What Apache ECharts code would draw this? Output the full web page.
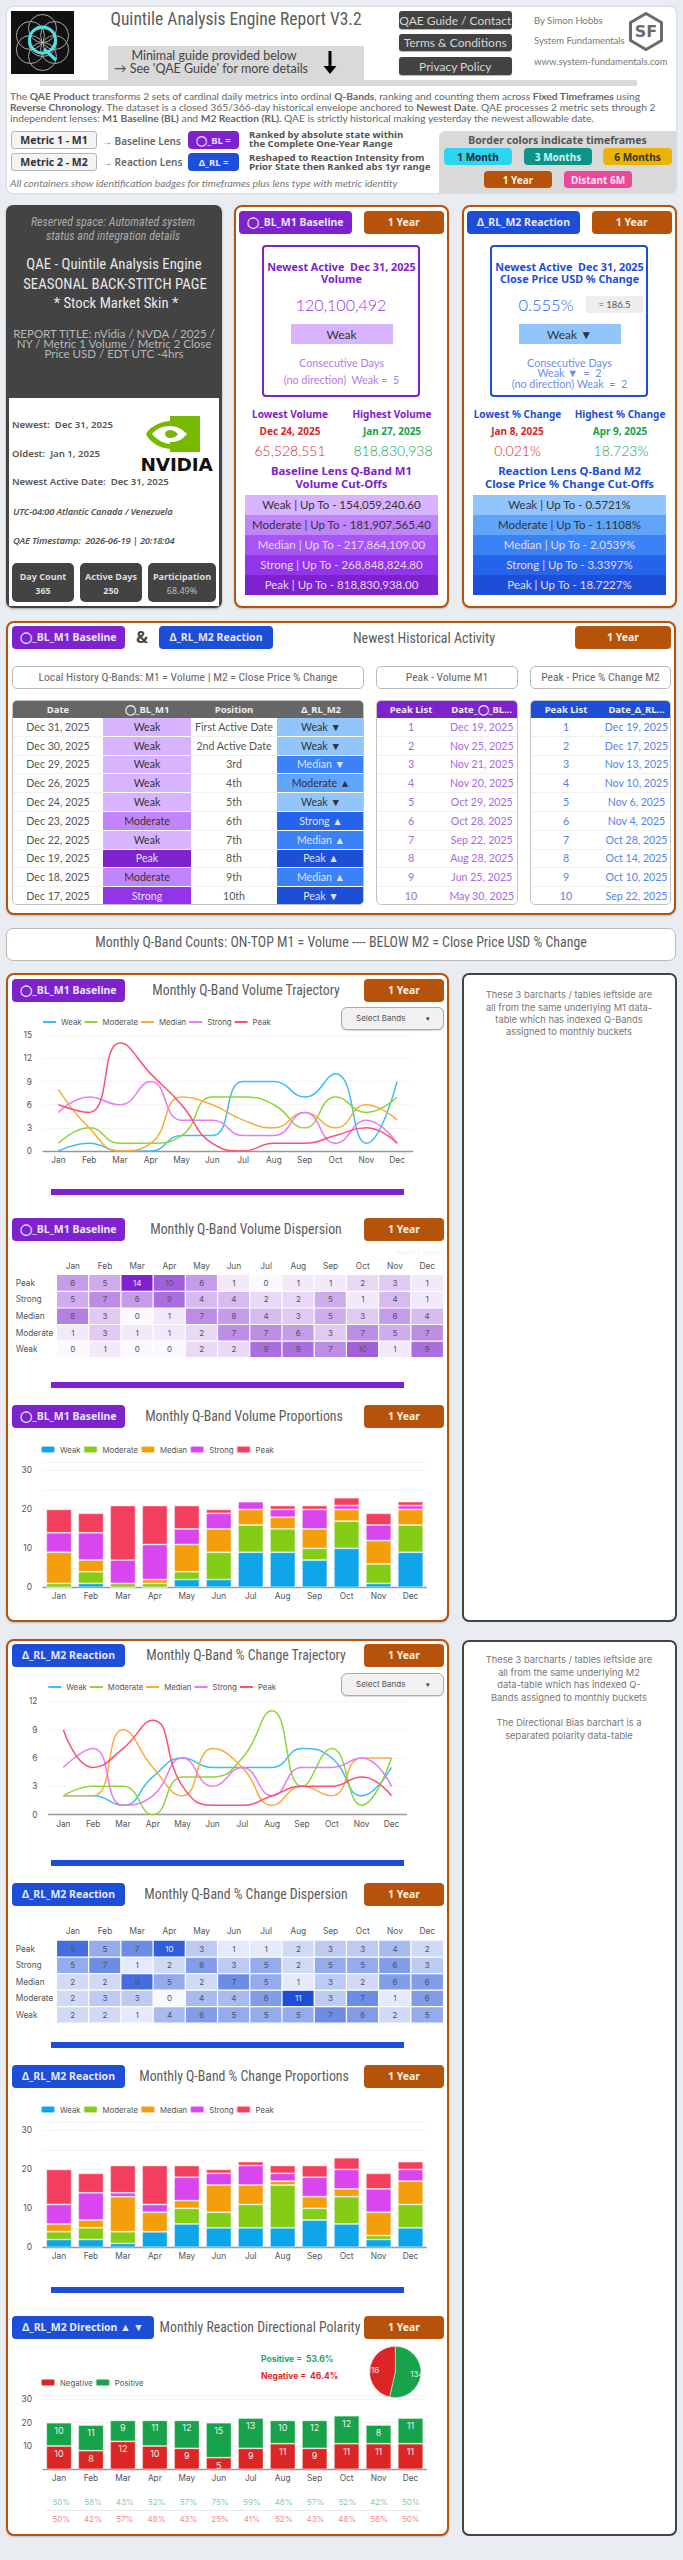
<!DOCTYPE html>
<html><head><meta charset="utf-8">
<script src="https://cdn.jsdelivr.net/npm/echarts@6/dist/echarts.min.js"></script>
<style>
html,body{margin:0;padding:0;background:#e9edf1;width:683px;height:2560px;overflow:hidden}
#page{position:relative;width:683px;height:2560px;overflow:hidden;font-family:Lato,'Open Sans',sans-serif}
#page div,#page span{box-sizing:border-box}
.abs{position:absolute}
.t{position:absolute;white-space:nowrap;line-height:1}
table{border-collapse:collapse;table-layout:fixed;width:100%;font-family:Lato,'Open Sans',sans-serif;font-size:10.6px;color:#555}
td,th{padding:0;text-align:center;white-space:nowrap;overflow:hidden}
</style></head><body><div id="page"></div>
<script>
// ---------- data ----------
const months=['Jan','Feb','Mar','Apr','May','Jun','Jul','Aug','Sep','Oct','Nov','Dec'];
const bands=['Weak','Moderate','Median','Strong','Peak'];
const bandColors=['#0ea5e9','#84cc16','#f59e0b','#d946ef','#f43f5e'];
const lineColors=['#38bdf8','#8fd43a','#fbab3c','#e879f9','#fb5272'];
const m1Weak=[0,1,0,0,2,2,9,9,7,10,1,9];
const m1Moderate=[1,3,1,1,2,7,7,6,3,7,5,7];
const m1Median=[8,3,0,1,7,6,4,3,5,3,6,4];
const m1Strong=[5,7,6,9,4,4,2,2,5,1,4,1];
const m1Peak=[6,5,14,10,6,1,0,1,1,2,3,1];
const m2Weak=[2,2,1,4,6,5,5,5,7,6,2,5];
const m2Moderate=[2,3,3,0,4,4,6,11,3,7,1,6];
const m2Median=[2,2,9,5,2,7,5,1,3,2,6,6];
const m2Strong=[5,7,1,2,6,3,5,2,5,5,6,3];
const m2Peak=[9,5,7,10,3,1,1,2,3,3,4,2];
const dirNegative=[10,8,12,10,9,5,9,11,9,11,11,11];
const dirPositive=[10,11,9,11,12,15,13,10,12,12,8,11];
const dirPosPct=['50%','58%','43%','52%','57%','75%','59%','48%','57%','52%','42%','50%'];
const dirNegPct=['50%','42%','57%','48%','43%','25%','41%','52%','43%','48%','58%','50%'];
const pieTotals=[134,116];
const localDates=['Dec 31, 2025','Dec 30, 2025','Dec 29, 2025','Dec 26, 2025','Dec 24, 2025','Dec 23, 2025','Dec 22, 2025','Dec 19, 2025','Dec 18, 2025','Dec 17, 2025'];
const localBL=['Weak','Weak','Weak','Weak','Weak','Moderate','Weak','Peak','Moderate','Strong'];
const localPos=['First Active Date','2nd Active Date','3rd','4th','5th','6th','7th','8th','9th','10th'];
const localRL=['Weak ▼','Weak ▼','Median ▼','Moderate ▲','Weak ▼','Strong ▲','Median ▲','Peak ▲','Median ▲','Peak ▼'];
const peakM1=['Dec 19, 2025','Nov 25, 2025','Nov 21, 2025','Nov 20, 2025','Oct 29, 2025','Oct 28, 2025','Sep 22, 2025','Aug 28, 2025','Jun 25, 2025','May 30, 2025'];
const peakM2=['Dec 19, 2025','Dec 17, 2025','Nov 13, 2025','Nov 10, 2025','Nov 6, 2025','Nov 4, 2025','Oct 28, 2025','Oct 14, 2025','Oct 10, 2025','Sep 22, 2025'];
const cutM1=['Weak | Up To - 154,059,240.60','Moderate | Up To - 181,907,565.40','Median | Up To - 217,864,109.00','Strong | Up To - 268,848,824.80','Peak | Up To - 818,830,938.00'];
const cutM2=['Weak | Up To - 0.5721%','Moderate | Up To - 1.1108%','Median | Up To - 2.0539%','Strong | Up To - 3.3397%','Peak | Up To - 18.7227%'];

// ---------- style ----------
const PURPLE='#7e22ce',BLUE='#1d4ed8',ORANGE='#b45309',DARK='#434343';
const purpleScale=['#d8b4fe','#c084fc','#a855f7','#9333ea','#7e22ce'];
const blueScale=['#93c5fd','#60a5fa','#3b82f6','#2563eb','#1d4ed8'];
const NARROW="'Liberation Sans Narrow','Roboto Condensed','DejaVu Sans Condensed',sans-serif";
const BODY="Lato,'Open Sans',sans-serif";
const BOLD="'Noto Sans','Open Sans',sans-serif";
const CHART="Inter,sans-serif";
const page=document.getElementById('page');

function B(x,y,w,h,css,html){const d=document.createElement('div');d.className='abs';
 d.style.cssText=`left:${x}px;top:${y}px;width:${w}px;height:${h}px;`+(css||'');if(html)d.innerHTML=html;page.appendChild(d);return d;}
function T(x,y,s,css,al){const d=document.createElement('div');d.className='t';
 const tr=al==='l'?'translate(0,-50%)':al==='r'?'translate(-100%,-50%)':'translate(-50%,-50%)';
 d.style.cssText=`left:${x}px;top:${y}px;transform:${tr};font-family:${BODY};`+(css||'');d.innerHTML=s;page.appendChild(d);return d;}
function chip(x,y,w,h,s,bg,fg,css){return B(x,y,w,h,`background:${bg};color:${fg};border-radius:4px;display:flex;align-items:center;justify-content:center;white-space:nowrap;font-family:${BOLD};font-weight:700;font-size:10.5px;`+(css||''),s);}
function panel(x,y,w,h,col){return B(x,y,w,h,`background:#fff;border:2.5px solid ${col};border-radius:8px;box-shadow:0 1px 2px rgba(0,0,0,.2)`);}
const BLN='◯_BL_M1 Baseline',RLN='Δ_RL_M2 Reaction';
function titleRow(y,name,col,title,cx,w,fs){chip(12,y,w||113,22.5,name,col,'#e6e6f8');
 T(cx,y+12,title,`font-family:${NARROW};font-size:${fs||13.8}px;color:#5c5c5c`);
 chip(364,y,80,22.5,'1 Year',ORANGE,'#fbeee0');}

// ---------- header ----------
B(7,7,669,186,'background:#fff;border-radius:6px;box-shadow:0 0 2px rgba(0,0,0,.25)');
B(11,11,63,63,'background:#111',`<svg width="63" height="63" viewBox="0 0 63 63"><g fill="none" stroke="#b5b5b5" stroke-width=".9"><circle cx="31.5" cy="31.5" r="14"/><circle cx="31.5" cy="17.5" r="14"/><circle cx="31.5" cy="45.5" r="14"/><circle cx="19.4" cy="24.5" r="14"/><circle cx="43.6" cy="24.5" r="14"/><circle cx="19.4" cy="38.5" r="14"/><circle cx="43.6" cy="38.5" r="14"/></g><circle cx="31.5" cy="29" r="13" fill="none" stroke="#4fe0e8" stroke-width="3"/><path d="M33 38 L45 49" stroke="#4fe0e8" stroke-width="3.2" fill="none"/></svg>`);
T(236,20,'Quintile Analysis Engine Report V3.2',`font-family:${NARROW};font-size:17.5px;color:#5c5c5c`);
B(108,46,256,36,'background:#d9d9d9');B(40,80,597,6,'background:#d9d9d9');
T(214,56,'Minimal guide provided below',"font-size:12.5px;color:#444");
T(211,69,"→ See 'QAE Guide' for more details","font-size:12.5px;color:#444");
B(323,51,14,23,'',`<svg width="14" height="23" viewBox="0 0 14 23"><path d="M5.5 0h3v15h5L7 23 .5 15h5z" fill="#000"/></svg>`);
[['QAE Guide / Contact',11],['Terms &amp; Conditions',34],['Privacy Policy',57]].forEach(r=>B(398.5,r[1],113.5,r[1]==34?17:18,`background:${DARK};border-radius:3px;color:#d6d6d6;font-family:Lato;font-size:12px;white-space:nowrap;display:flex;align-items:center;justify-content:center;box-shadow:0 1px 1px rgba(0,0,0,.3)`,r[0]));
T(534,21,'By Simon Hobbs',"font-size:9.5px;color:#777",'l');
T(534,41,'System Fundamentals',"font-size:9.5px;color:#777",'l');
T(534,62,'www.system-fundamentals.com',"font-size:9.5px;color:#777",'l');
B(628,12,36,39,'',`<svg width="36" height="39" viewBox="0 0 36 39"><path d="M18 1.5 L33.5 10.5 V28.5 L18 37.5 L2.5 28.5 V10.5Z" fill="none" stroke="#6b6b6b" stroke-width="3"/><text x="18" y="25" text-anchor="middle" font-family="DejaVu Sans" font-weight="700" font-size="16" fill="#6b6b6b">SF</text></svg>`);
const para=['The <b>QAE Product</b> transforms 2 sets of cardinal daily metrics into ordinal <b>Q-Bands</b>, ranking and counting them across <b>Fixed Timeframes</b> using',
 '<b>Reverse Chronology</b>. The dataset is a closed 365/366-day historical envelope anchored to <b>Newest Date</b>. QAE processes 2 metric sets through 2',
 'independent lenses: <b>M1 Baseline (BL)</b> and <b>M2 Reaction (RL).</b> QAE is strictly historical making yesterday the newest allowable date.'];
para.forEach((p,i)=>T(10,96+11*i,p,"font-size:10.25px;color:#666",'l'));
function metric(y,s){B(11,y,86,18,`background:#f4f4f4;border:1px solid #b5b5b5;border-radius:3px;display:flex;align-items:center;justify-content:center;font-family:${BOLD};font-weight:700;font-size:10.5px;color:#333`,s);}
metric(131,'Metric 1 - M1');metric(153,'Metric 2 - M2');
T(102,141,'→ Baseline Lens',`font-family:${BOLD};font-weight:600;font-size:10px;color:#666`,'l');
T(102,162,'→ Reaction Lens',`font-family:${BOLD};font-weight:600;font-size:10px;color:#666`,'l');
chip(188,131,51,18,'◯_BL =',PURPLE,'#eadcff','font-size:9.5px');
chip(188,153,51,18,'Δ_RL =',BLUE,'#e0e6ff','font-size:9.5px');
[['Ranked by absolute state within',135],['the Complete One-Year Range',144],['Reshaped to Reaction Intensity from',158],['Prior State then Ranked abs 1yr range',167]].forEach(r=>T(249,r[1],r[0],`font-family:${BOLD};font-weight:700;font-size:9.6px;color:#555`,'l'));
T(10,183,'All containers show identification badges for timeframes plus lens type with metric identity',"font-style:italic;font-size:10.4px;color:#777",'l');
B(439,131,237,62,'background:#d9d9d9;border-top-left-radius:6px;border-bottom-right-radius:6px');
T(557.5,140,'Border colors indicate timeframes',`font-family:${BOLD};font-weight:700;font-size:10.5px;color:#555`);
chip(444,148,68,17,'1 Month','#2dd4f0','#223','font-size:10px');
chip(524,148,68,17,'3 Months','#0d9488','#d8f3ee','font-size:10px');
chip(603,148,69,17,'6 Months','#eab308','#332','font-size:10px');
chip(484,171,68,17,'1 Year',ORANGE,'#fbeee0','font-size:10px');
chip(564,171,68,17,'Distant 6M','#ec4899','#ffe6f2','font-size:10px');

// ---------- status panel ----------
B(6,205,216,403,`background:${DARK};border-radius:7px;box-shadow:0 1px 2px rgba(0,0,0,.3)`);
B(9,398,210,208,'background:#fff');
const NI=`font-family:${NARROW};font-style:italic;font-size:12px;color:#aaa`;
T(113,222,'Reserved space: Automated system',NI);T(113,236,'status and integration details',NI);
const NW=`font-family:${NARROW};font-size:14.8px;color:#e8e8e8`;
T(114,264,'QAE - Quintile Analysis Engine',NW);T(115,284,'SEASONAL BACK-STITCH PAGE',NW);T(116,303,'* Stock Market Skin *',NW);
['REPORT TITLE: nVidia / NVDA / 2025 /','NY / Metric 1 Volume / Metric 2 Close','Price USD / EDT UTC -4hrs'].forEach((s,i)=>T(114,334+10*i,s,'font-size:11.5px;color:#b8b8b8'));
const WB=`font-family:${BOLD};font-weight:600;font-size:9.6px;color:#555`;
T(12,425,'Newest:&nbsp; Dec 31, 2025',WB,'l');T(12,454,'Oldest:&nbsp; Jan 1, 2025',WB,'l');T(12,482,'Newest Active Date:&nbsp; Dec 31, 2025',WB,'l');
const WI=`font-family:${BOLD};font-weight:600;font-style:italic;font-size:9.4px;color:#555;letter-spacing:-.2px`;
T(13,512,'UTC-04:00 Atlantic Canada / Venezuela',WI,'l');T(13,541,'QAE Timestamp:&nbsp; 2026-06-19 | 20:18:04',WI,'l');
B(146,416,54,37,'',`<svg width="54" height="37" viewBox="0 0 54 37"><rect x="24" width="30" height="36" fill="#76b900"/><path d="M24 5C12 6 3 12 0 18c3 7 12 14 24 15V28c-8-1-14-5-18-10 4-5 10-8 18-8z" fill="#76b900"/><path d="M24 10c7 0 12 3 17 8-5 6-10 8-15 8-6 0-9-3-11-8 2-4 5-8 9-8z" fill="#fff"/><path d="M24 14c3 0 6 2 8 4-2 3-5 4-8 4-3 0-5-2-5-4s2-4 5-4z" fill="#76b900"/></svg>`);
T(176.5,465,'NVIDIA',"font-family:'DejaVu Sans';font-weight:900;font-size:18.5px;color:#111;letter-spacing:-.2px");
[[12,62,'Day Count','365','#ddd'],[80,62,'Active Days','250','#ddd'],[148,68,'Participation','68.49%','#bbb']].forEach(r=>{
 B(r[0],563,r[1],39,`background:${DARK};border-radius:5px`);
 T(r[0]+r[1]/2,576,r[2],`font-family:${BOLD};font-weight:700;font-size:9px;color:#ddd`);
 T(r[0]+r[1]/2,590,r[3],`font-family:${BOLD};font-weight:${r[3].length>3?400:700};font-size:9px;color:${r[4]}`);});

// ---------- KPI panels ----------
function kpi(o){
 panel(o.x,205,215,403,ORANGE);
 chip(o.x+5,211,113,22.5,o.name,o.col,'#e6e6f8');chip(o.x+130,211,79.5,22.5,'1 Year',ORANGE,'#fbeee0');
 const cx=o.x+107.5;
 B(o.x+28,245,158,152,`border:2.5px solid ${o.col};border-radius:4px`);
 const H=`font-family:${BOLD};font-weight:700;font-size:10.8px;color:${o.hc}`;
 T(cx,267,'Newest Active&nbsp; Dec 31, 2025',H);T(cx,279,o.sub,H);
 T(o.vx,305,o.val,`font-weight:300;font-size:${o.vs}px;color:${o.hc2}`);
 if(o.eq)B(o.x+124,296,57,17,`background:#eee;border-radius:2px;display:flex;align-items:center;justify-content:center;font-family:${BODY};font-size:9.5px;color:#555;white-space:nowrap`,o.eq);
 B(o.x+56.5,324,102,20,`background:${o.scale[0]};display:flex;align-items:center;justify-content:center;font-size:12px;color:#333;font-family:${BODY}`,o.q);
 const C=`font-family:${BODY};font-size:10.8px;color:${o.soft}`;
 o.cons.forEach(r=>T(cx,r[1],r[0],C));
 const L=`font-family:${BOLD};font-weight:700;font-size:10px;color:${o.hc}`;
 T(o.lx,414,o.low,L);T(o.hx,414,o.high,L);
 T(o.lx,431,o.lowD,`font-family:${BOLD};font-weight:700;font-size:10px;color:#dc2626`);
 T(o.hx,431,o.highD,`font-family:${BOLD};font-weight:700;font-size:10px;color:#16a34a`);
 T(o.lx,451,o.lowV,'font-weight:300;font-size:14px;color:#dc2626');
 T(o.hx+1,451,o.highV,'font-weight:300;font-size:14px;color:#16a34a');
 const Q=`font-family:${BOLD};font-weight:700;font-size:11.3px;color:${o.hc}`;
 T(cx,471,o.q1,Q);T(cx,484,o.q2,Q);
 o.cut.forEach((s,i)=>B(o.x+11,495+20*i,193,19.5,`background:${o.scale[i]};display:flex;align-items:center;justify-content:center;font-family:${BODY};font-size:11.5px;white-space:nowrap;color:${i<2?'#333':'#e6dcf5'}`,s));
}
kpi({x:234,name:BLN,col:PURPLE,hc:PURPLE,hc2:'#9333ea',soft:'#b37ae6',scale:purpleScale,sub:'Volume',val:'120,100,492',vx:341,vs:16,q:'Weak',
 cons:[['Consecutive Days',363],['(no direction)&nbsp; Weak =&nbsp; 5',380]],low:'Lowest Volume',high:'Highest Volume',lx:290,hx:392,lowD:'Dec 24, 2025',highD:'Jan 27, 2025',lowV:'65,528,551',highV:'818,830,938',q1:'Baseline Lens Q-Band M1',q2:'Volume Cut-Offs',cut:cutM1});
kpi({x:462,name:RLN,col:BLUE,hc:BLUE,hc2:'#2563eb',soft:'#6b8fe8',scale:blueScale,sub:'Close Price USD % Change',val:'0.555%',vx:546,vs:16.5,eq:'= 186.5',q:'Weak ▼',
 cons:[['Consecutive Days',363],['Weak ▼&nbsp; =&nbsp; 2',373],['(no direction) Weak&nbsp; =&nbsp; 2',384]],low:'Lowest % Change',high:'Highest % Change',lx:517.5,hx:620,lowD:'Jan 8, 2025',highD:'Apr 9, 2025',lowV:'0.021%',highV:'18.723%',q1:'Reaction Lens Q-Band M2',q2:'Close Price % Change Cut-Offs',cut:cutM2});

// ---------- history panel ----------
panel(6,621,670,294,ORANGE);
chip(12,626,113,22.5,BLN,PURPLE,'#e6e6f8');chip(159,626,114,22.5,RLN,BLUE,'#e6e6f8');
T(142,637,'&amp;',`font-family:${BOLD};font-weight:700;font-size:16px;color:#444`);
T(424,638,'Newest Historical Activity',`font-family:${NARROW};font-size:14px;color:#5c5c5c`);
chip(575,626,96,22.5,'1 Year',ORANGE,'#fbeee0');
function sub(x,w,s){B(x,666,w,22.5,`background:#fff;border:1px solid #b9b9b9;border-radius:5px;display:flex;align-items:center;justify-content:center;font-family:${NARROW};font-size:11.6px;color:#666;white-space:nowrap`,s);}
sub(12,352,'Local History Q-Bands: M1 = Volume | M2 = Close Price % Change');sub(376,142,'Peak - Volume M1');sub(530,141,'Peak - Price % Change M2');
const ROW='height:18.8px;border-bottom:1px solid #f0f0f0;';
function bandCell(label,scale){const k=bands.indexOf(label.split(' ')[0]);return `<td style="background:${scale[k]};border-bottom:1px solid rgba(255,255,255,.35);color:${k<2?'#333':'#dfe3fb'}">${label}</td>`;}
function tableBox(x,w,headBg,head,cols,rows){
 const col=cols.map(c=>`<col style="width:${c}px">`).join('');
 const th=head.map(h=>`<th style="height:16.5px;background:${headBg};color:#eee;font-family:${BOLD};font-weight:700;font-size:9.5px">${h}</th>`).join('');
 B(x,700,w,204.5,'background:#fff;border:1px solid #c3c3c3;border-radius:5px;overflow:hidden',`<table><colgroup>${col}</colgroup><tr>${th}</tr>${rows.map(r=>`<tr style="${ROW}">${r}</tr>`).join('')}</table>`);
}
tableBox(12,352,'#666',['Date','◯_BL_M1','Position','Δ_RL_M2'],[90,88,86,88],localDates.map((d,i)=>`<td>${d}</td>${bandCell(localBL[i],purpleScale)}<td>${localPos[i]}</td>${bandCell(localRL[i],blueScale)}`));
const plist=(a,c)=>a.map((d,i)=>`<td style="color:${c}">${i+1}</td><td style="color:${c}">${d}</td>`);
tableBox(376,141.5,PURPLE,['Peak List','Date_◯_BL...'],[68,73.5],plist(peakM1,'#a46be0'));
tableBox(530,141,BLUE,['Peak List','Date_Δ_RL...'],[70,71],plist(peakM2,'#5583ea'));
B(6,928,670,33,`background:#fff;border:1px solid #b9b9b9;border-radius:7px;display:flex;align-items:center;justify-content:center;padding-bottom:6px;font-family:${NARROW};font-size:13.9px;color:#5c5c5c;white-space:nowrap`,'Monthly Q-Band Counts: ON-TOP M1 = Volume ---- BELOW M2 = Close Price USD % Change');

// ---------- monthly panels ----------
panel(6,973,443,649,ORANGE);
panel(6,1639,443,897,ORANGE);
function side(y,h,lines){B(462,y,215,h,`background:#fff;border:2.5px solid ${DARK};border-radius:7px`);
 lines.forEach(l=>T(569,l[1],l[0],`font-family:${CHART};font-size:9.3px;color:#777`));}
side(973,649,[['These 3 barcharts / tables leftside are',995],['all from the same underlying M1 data-',1007.5],['table which has indexed Q-Bands',1019.8],['assigned to monthly buckets',1032]]);
side(1640,896,[['These 3 barcharts / tables leftside are',1660],['all from the same underlying M2',1673],['data-table which has indexed Q-',1685],['Bands assigned to monthly buckets',1698],['The Directional Bias barchart is a',1723],['separated polarity data-table',1736]]);

titleRow(979,BLN,PURPLE,'Monthly Q-Band Volume Trajectory',246);
titleRow(1218,BLN,PURPLE,'Monthly Q-Band Volume Dispersion',246);
titleRow(1405,BLN,PURPLE,'Monthly Q-Band Volume Proportions',244);
titleRow(1644,RLN,BLUE,'Monthly Q-Band % Change Trajectory',246);
titleRow(1883,RLN,BLUE,'Monthly Q-Band % Change Dispersion',246);
titleRow(2065,RLN,BLUE,'Monthly Q-Band % Change Proportions',244);
titleRow(2316,'Δ_RL_M2 Direction ▲ ▼',BLUE,'Monthly Reaction Directional Polarity',260,142);
function select(y){B(341,y,103,22.5,`background:#f1f1f1;border:1px solid #aaa;border-radius:6px;box-shadow:0 1px 1px rgba(0,0,0,.15)`);
 T(356,y+11,'Select Bands',`font-family:${CHART};font-size:8px;color:#555`,'l');T(428,y+11,'▾',"font-size:7px;color:#333");}
select(1007);select(1673);
B(51,1189,353,6,`background:${PURPLE}`);B(51,1382,353,6,`background:${PURPLE}`);
B(51,1860,353,6,`background:${BLUE}`);B(51,2042,353,6,`background:${BLUE}`);B(51,2287,353,6,`background:${BLUE}`);
T(418,1252,'month / count',`font-family:${CHART};font-size:7px;color:#f1f1f1`);
T(261,2359,'Positive =&nbsp; 53.6%',`font-family:${CHART};font-weight:700;font-size:8.5px;color:#22a75a`,'l');
T(261,2376,'Negative =&nbsp; 46.4%',`font-family:${CHART};font-weight:700;font-size:8.5px;color:#dc2626`,'l');
B(46,2510,375,1,'background:#e8e8e8');
function pctRow(y,arr,c){arr.forEach((s,i)=>T(61.3+31.77*i,y,s,`font-family:${CHART};font-size:8px;color:${c}`));}
pctRow(2502,dirPosPct,'#7fd39f');pctRow(2519,dirNegPct,'#ef8a8a');

// ---------- charts ----------
function mount(top,h){const d=document.createElement('div');d.className='abs';d.style.cssText=`left:0;top:${top}px;width:450px;height:${h}px;`;page.appendChild(d);return echarts.init(d,null,{renderer:'svg'});}
const TXT={fontFamily:CHART,fontSize:8.3,color:'#555'};
function xCat(g,extra){return Object.assign({type:'category',data:months,axisTick:{show:false},axisLine:{lineStyle:{color:'#999',width:1.3}},axisLabel:Object.assign({},TXT,{margin:5})},extra||{});}
function lineChart(top,yZero,yTop,left,width,max,rows,legendLeft){
 const c=mount(top,yZero-top+22);
 c.setOption({animation:false,
  grid:{left,width,top:yTop-top,height:yZero-yTop},
  legend:{left:legendLeft,top:0,itemWidth:13,itemHeight:8,itemGap:2,padding:0,itemStyle:{color:'rgba(0,0,0,0)',opacity:0,borderWidth:0},textStyle:Object.assign({},TXT,{fontSize:7.8}),data:bands},
  xAxis:xCat(),
  yAxis:{type:'value',min:0,max,interval:3,axisLabel:Object.assign({},TXT,{margin:11}),splitLine:{lineStyle:{color:'#f5f5f5'}}},
  series:bands.map((b,i)=>({name:b,type:'line',smooth:.5,symbol:'none',data:rows[i],lineStyle:{width:1.5,color:lineColors[i]},itemStyle:{color:lineColors[i]}}))});
}
function heatChart(top,yTop,rows,hi,whiteFrom,low){
 const c=mount(top,yTop-top+84);
 const data=[];rows.forEach((r,y)=>r.forEach((v,x)=>data.push({value:[x,y,v],label:{color:v>=whiteFrom?'#e8e8fb':'#555'}})));
 c.setOption({animation:false,
  grid:{left:56.7,width:386.6,top:yTop-top,height:82.6},
  xAxis:{type:'category',position:'top',data:months,axisLine:{show:false},axisTick:{show:false},splitLine:{show:false},axisLabel:Object.assign({},TXT,{margin:5})},
  yAxis:{type:'category',data:bands,axisLine:{show:false},axisTick:{show:false},splitLine:{show:false},axisLabel:Object.assign({},TXT,{align:'left',margin:41})},
  visualMap:{show:false,min:0,max:hi,dimension:2,inRange:{color:[low,hi==14?PURPLE:BLUE]}},
  series:[{type:'heatmap',data,itemStyle:{borderColor:'#fff',borderWidth:1.2},label:{show:true,fontFamily:CHART,fontSize:8}}]});
}
function stackChart(top,yZero,rows){
 const yTop=yZero-124.6;
 const c=mount(top,yZero-top+22);
 c.setOption({animation:false,
  grid:{left:43,width:383.5,top:yTop-top,height:124.6},
  legend:{left:40,top:0,itemWidth:14,itemHeight:7,itemGap:2,padding:0,icon:'roundRect',textStyle:Object.assign({},TXT,{fontSize:7.8}),data:bands},
  xAxis:xCat(),
  yAxis:{type:'value',min:0,max:32,interval:5,axisLabel:Object.assign({},TXT,{margin:11,fontSize:8.5,formatter:v=>v%10===0?v:''}),splitLine:{lineStyle:{color:'#f3f3f3'}}},
  series:bands.map((b,i)=>({name:b,type:'bar',stack:'t',barWidth:25.4,data:rows[i],itemStyle:{color:bandColors[i],borderColor:'rgba(255,255,255,.55)',borderWidth:.8}}))});
}
const m1Rows=[m1Weak,m1Moderate,m1Median,m1Strong,m1Peak];
const m2Rows=[m2Weak,m2Moderate,m2Median,m2Strong,m2Peak];
lineChart(1018,1151,1035.3,43,369.5,15,m1Rows,42);
heatChart(1255,1274.7,m1Rows,14,14,'#fbf8fe');
stackChart(1445,1587.3,m1Rows);
lineChart(1683,1814.7,1701.3,48.4,358,12,m2Rows,47.3);
heatChart(1921,1940.3,m2Rows,11,10,'#f8f9fe');
stackChart(2105,2247.3,m2Rows);
(function(){
 const top=2340,yZero=2469.3,h=74.5,yTop=yZero-h;
 const c=mount(top,yZero-top+22);
 const lab={show:true,position:'insideTop',distance:3,fontFamily:CHART,fontSize:9,color:'#eee'};
 c.setOption({animation:false,
  grid:{left:43,width:383.5,top:yTop-top,height:h},
  legend:{left:40,top:2378-top,itemWidth:14,itemHeight:7,itemGap:2,padding:0,icon:'roundRect',textStyle:Object.assign({},TXT,{fontSize:7.8}),data:['Negative','Positive']},
  xAxis:xCat(),
  yAxis:{type:'value',min:0,max:32,interval:10,axisLabel:Object.assign({},TXT,{margin:11,fontSize:8.5,formatter:v=>(v%10===0&&v>0)?v:''}),splitLine:{lineStyle:{color:'#f3f3f3'}}},
  series:[
   {name:'Negative',type:'bar',stack:'d',barWidth:25.4,data:dirNegative,label:lab,itemStyle:{color:'#dc2626',borderColor:'rgba(255,255,255,.5)',borderWidth:.8}},
   {name:'Positive',type:'bar',stack:'d',barWidth:25.4,data:dirPositive,label:lab,itemStyle:{color:'#16a34a',borderColor:'rgba(255,255,255,.5)',borderWidth:.8}},
   {type:'pie',center:[395.3,2372-top],radius:25.7,startAngle:90,z:5,data:[{name:'Positive',value:pieTotals[0],itemStyle:{color:'#16a34a'}},{name:'Negative',value:pieTotals[1],itemStyle:{color:'#dc2626'}}],
    label:{position:'inside',formatter:'{c}',fontFamily:CHART,fontSize:8,color:'#eee'},labelLine:{show:false},
    labelLayout:p=>({dx:p.dataIndex===0?6:-6,dy:0}),itemStyle:{borderColor:'#fff',borderWidth:.5}}
  ]});
})();
</script></body></html>
